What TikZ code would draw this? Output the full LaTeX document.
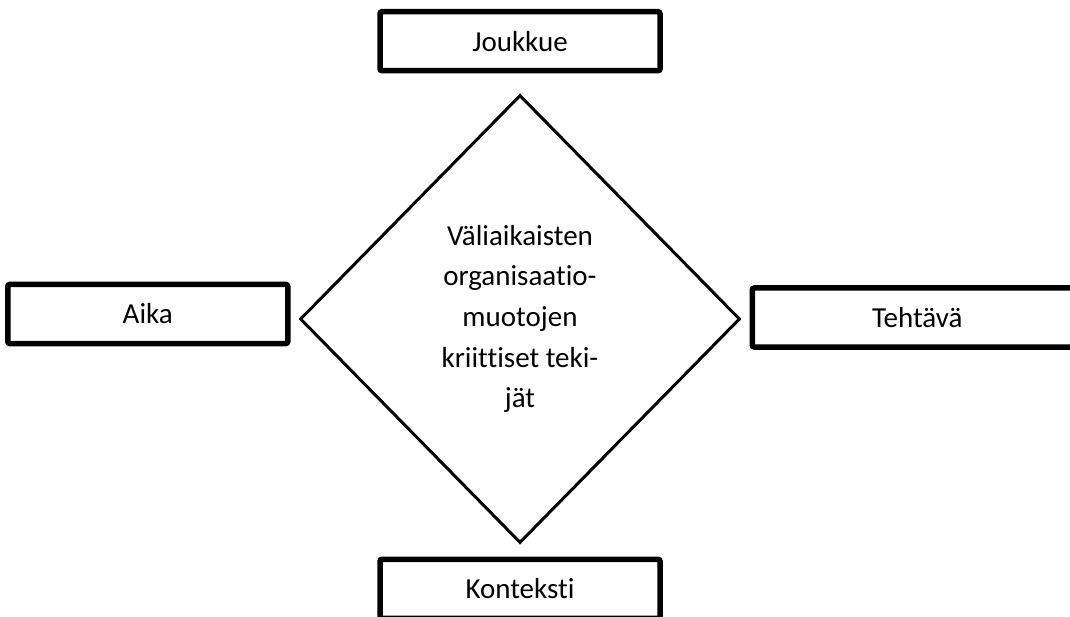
\documentclass[tikz,border=0pt]{standalone}
\usepackage{fontspec}
\setmainfont{Carlito}[Ligatures={NoCommon}]
\usepackage{tikz}
\usetikzlibrary{positioning,shapes.geometric}

\begin{document}
\begin{tikzpicture}[x=1pt, y=1pt,
    factorbox/.style={rectangle, draw=black, line width=5.5pt, rounded corners=2pt, minimum width=280pt, minimum height=59pt, inner sep=0pt, font=\fontsize{29}{35}\selectfont},
    coremode/.style={diamond, draw=black, line width=3pt, minimum width=440pt, minimum height=448pt, inner sep=0pt, align=center, font=\fontsize{29}{40.7}\selectfont}]
    \useasboundingbox (0,0) rectangle (1070,-617);
    %Nodes
    \node[coremode]   (core)                                    at (520,-319) {Väliaikaisten\\organisaatio-\\muotojen\\kriittiset teki-\\jät};
    \node[factorbox]  (team)     [above=20pt of core]           {Joukkue};
    \node[factorbox]  (time)     [left=8pt of core, yshift=5pt] {Aika};
    \node[factorbox, minimum width=330pt]
                      (task)     [right=8pt of core, yshift=1.5pt] {Tehtävä};
    \node[factorbox]  (context)  [below=12pt of core]           {Konteksti};
\end{tikzpicture}
\end{document}
